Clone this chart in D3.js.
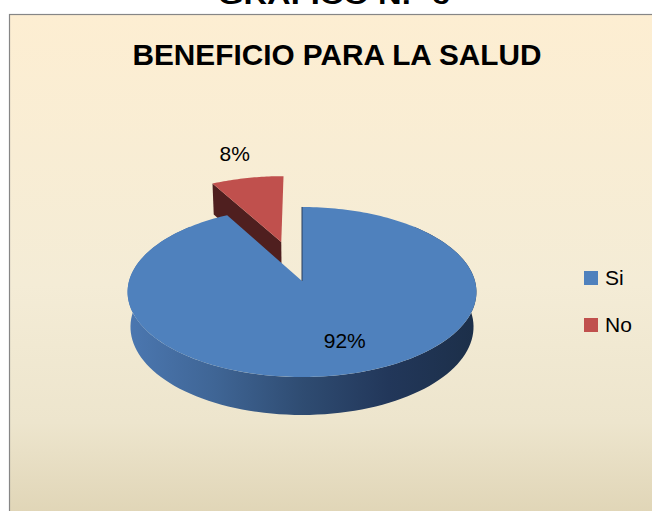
<!DOCTYPE html>
<html>
<head>
<meta charset="utf-8">
<script src="https://cdn.jsdelivr.net/npm/d3@7"></script>
<style>
  body { margin: 0; background: #fff; }
  svg { display: block; font-family: "Liberation Sans", Arial, sans-serif; }
</style>
</head>
<body>
<script>
// datos
const categories = ["Si", "No"];
const values = [92, 8];
const labels = ["92%", "8%"];
const colors = ["#4F81BD", "#C0504D"];
const sideColors = ["#2f4c72", "#4f1f1f"];
const explode = [0, 0.513];

const W = 652, H = 511;

const svg = d3.select("body")
    .append("svg")
    .attr("width", W)
    .attr("height", H);

const defs = svg.append("defs");

const bg = defs.append("linearGradient")
    .attr("id", "bg")
    .attr("x1", 0).attr("y1", 0).attr("x2", 0).attr("y2", 1);
[[0, "#fdeed2"], [0.45, "#f4ecd6"], [0.68, "#ede5cd"], [1, "#d2c49e"]]
    .forEach(s => bg.append("stop").attr("offset", s[0]).attr("stop-color", s[1]));

const wallGrad = defs.append("linearGradient")
    .attr("id", "wall")
    .attr("gradientUnits", "userSpaceOnUse")
    .attr("x1", 129).attr("y1", 0).attr("x2", 475).attr("y2", 0);
[[0, "#4b77b0"], [0.25, "#3f6595"], [0.5, "#2f4c72"], [0.75, "#22375a"], [1, "#1c2f49"]]
    .forEach(s => wallGrad.append("stop").attr("offset", s[0]).attr("stop-color", s[1]));

// titulo cortado arriba
svg.append("text")
    .attr("x", 334)
    .attr("y", 4)
    .attr("text-anchor", "middle")
    .attr("font-size", 26)
    .attr("font-weight", "bold")
    .attr("textLength", 232)
    .attr("lengthAdjust", "spacingAndGlyphs")
    .text("GRÁFICO N.º 6");

// area del grafico
svg.append("rect")
    .attr("x", 9.5)
    .attr("y", 14.5)
    .attr("width", 700)
    .attr("height", 600)
    .attr("fill", "url(#bg)")
    .attr("stroke", "#868686")
    .attr("stroke-width", 1.2);

svg.append("text")
    .attr("x", 337)
    .attr("y", 65)
    .attr("text-anchor", "middle")
    .attr("font-size", 29.5)
    .attr("font-weight", "bold")
    .attr("textLength", 409)
    .attr("lengthAdjust", "spacingAndGlyphs")
    .text("BENEFICIO PARA LA SALUD");

// proyeccion 3D con perspectiva
const cx0 = 302, cy0 = 281, f = 1171, dist = 6.77, depth = 0.233;
const tilt = 28.9 * Math.PI / 180;
const ct = Math.cos(tilt), st = Math.sin(tilt);

function proj(x3, y3, z3) {
    const Z = dist + z3 * ct - y3 * st;
    return [cx0 + f * x3 / Z, cy0 - f * (y3 * ct + z3 * st) / Z];
}

const pie = d3.pie().sort(null).startAngle(0).endAngle(2 * Math.PI);
const arcs = pie(values);

const line = d3.line();

function offset(a, i) {
    const mid = (a.startAngle + a.endAngle) / 2;
    return [Math.sin(mid) * explode[i], Math.cos(mid) * explode[i]];
}

function rim(a, i, y3, t0, t1, n) {
    const [ox, oz] = offset(a, i);
    return d3.range(n + 1).map(k => {
        const t = t0 + (t1 - t0) * k / n;
        return proj(ox + Math.sin(t), y3, oz + Math.cos(t));
    });
}

function apex(a, i, y3) {
    const [ox, oz] = offset(a, i);
    return proj(ox, y3, oz);
}

// sector "No" (separado, atras)
const aNo = arcs[1];
const gNo = svg.append("g");
{
    const t = aNo.startAngle;
    const [ox, oz] = offset(aNo, 1);
    const face = [
        apex(aNo, 1, 0),
        proj(ox + Math.sin(t), 0, oz + Math.cos(t)),
        proj(ox + Math.sin(t), -depth, oz + Math.cos(t)),
        apex(aNo, 1, -depth)
    ];
    gNo.append("path")
        .attr("d", line(face) + "Z")
        .attr("fill", sideColors[1]);
    gNo.append("path")
        .attr("d", line([apex(aNo, 1, 0)].concat(rim(aNo, 1, 0, aNo.startAngle, aNo.endAngle, 30))) + "Z")
        .attr("fill", colors[1]);
}

// sector "Si"
const aSi = arcs[0];
const gSi = svg.append("g");
{
    const t0 = Math.PI / 4, t1 = Math.PI * 7 / 4;
    const top = rim(aSi, 0, 0, t0, t1, 120);
    const bot = rim(aSi, 0, -depth, t0, t1, 120).reverse();
    gSi.append("path")
        .attr("d", line(top.concat(bot)) + "Z")
        .attr("fill", "url(#wall)");
    gSi.append("path")
        .attr("d", line([apex(aSi, 0, 0)].concat(rim(aSi, 0, 0, aSi.startAngle, aSi.endAngle, 240))) + "Z")
        .attr("fill", colors[0]);
    gSi.append("path")
        .attr("d", line([apex(aSi, 0, 0), rim(aSi, 0, 0, 0, 0, 1)[0]]))
        .attr("stroke", "#2a3f5c")
        .attr("stroke-width", 1)
        .attr("fill", "none");
}

// etiquetas de datos
const labelPos = [
    (() => { const m = 161 * Math.PI / 180; return proj(0.695 * Math.sin(m), 0, 0.695 * Math.cos(m)); })(),
    (() => { const m = (aNo.startAngle + aNo.endAngle) / 2; const r = explode[1] + 1.43; return proj(r * Math.sin(m), 0, r * Math.cos(m)); })()
];

svg.selectAll(".lbl")
    .data(labels)
    .enter()
    .append("text")
    .attr("class", "lbl")
    .attr("x", (d, i) => labelPos[i][0])
    .attr("y", (d, i) => labelPos[i][1] + 7)
    .attr("text-anchor", "middle")
    .attr("font-size", 21)
    .attr("fill", "#000")
    .text(d => d);

// leyenda
const legend = svg.append("g").attr("transform", "translate(584, 271)");
const ly = d3.scaleBand().domain(categories).range([0, 94]).paddingInner(0);

legend.selectAll("rect")
    .data(categories)
    .enter()
    .append("rect")
    .attr("x", 0)
    .attr("y", d => ly(d))
    .attr("width", 14)
    .attr("height", 14)
    .attr("fill", (d, i) => colors[i]);

legend.selectAll("text")
    .data(categories)
    .enter()
    .append("text")
    .attr("x", 21)
    .attr("y", d => ly(d) + 13.5)
    .attr("font-size", 21)
    .text(d => d);
</script>
</body>
</html>
